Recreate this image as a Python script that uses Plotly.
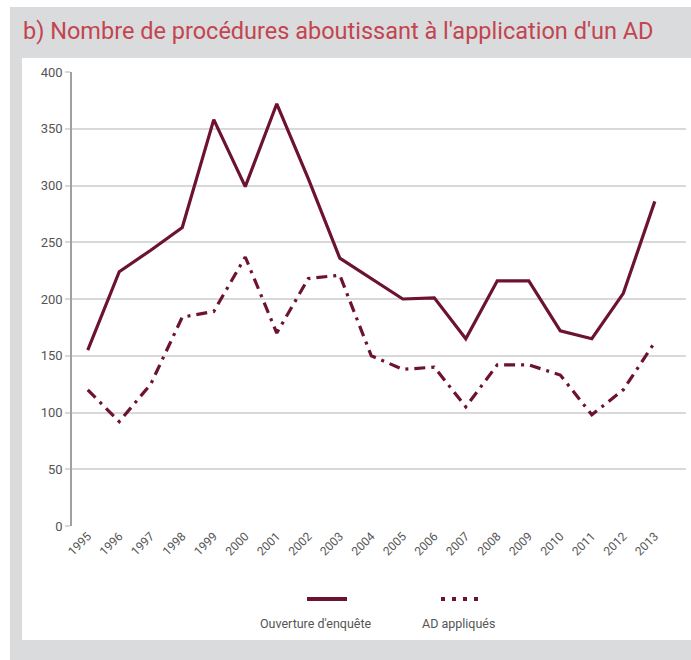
import plotly.graph_objects as go

years = list(range(1995, 2014))
ouverture = [155, 224, 243, 263, 358, 299, 372, 306, 236, 218, 200, 201, 165, 216, 216, 172, 165, 205, 286]
ad_appliques = [120, 92, 125, 184, 189, 237, 170, 218, 221, 150, 138, 140, 105, 142, 142, 133, 98, 120, 162]
y_ticks = [0, 50, 100, 150, 200, 250, 300, 350, 400]

title_text = "b) Nombre de procédures aboutissant à l'application d'un AD"
series_names = ["Ouverture d'enquête", "AD appliqués"]

MAROON = "#6c1233"
TITLE_RED = "#c2454f"
GRAY_TXT = "#555555"
FRAME = "#dadbdd"
FONT = "Liberation Sans Narrow, Roboto, Arial Narrow, sans-serif"

W, H = 691, 660
L, R, T, B = 72, 5, 72, 134
pw = W - L - R
ph = H - T - B

def px_x(px):  # window pixels -> paper
    return (px - L) / pw

def px_y(py):
    return (H - B - py) / ph

fig = go.Figure()
fig.add_trace(go.Scatter(x=years, y=ouverture, mode="lines", name=series_names[0],
                         line=dict(color=MAROON, width=3.2), showlegend=False))
fig.add_trace(go.Scatter(x=years, y=ad_appliques, mode="lines", name=series_names[1],
                         line=dict(color=MAROON, width=3.2, dash="11px,6px,3px,6px"), showlegend=False))

def band(x0, x1, y0, y1):
    return dict(type="rect", xref="paper", yref="paper", x0=px_x(x0), x1=px_x(x1), y0=px_y(y1), y1=px_y(y0),
                fillcolor=FRAME, line=dict(width=0), layer="below")

shapes = [
    band(10, W, 7, 58),      # top band (title)
    band(10, 22, 7, H),      # left band
    band(10, W, 640, H),     # bottom band
    # legend symbols
    dict(type="line", xref="paper", yref="paper", x0=px_x(307), x1=px_x(347), y0=px_y(599), y1=px_y(599),
         line=dict(color=MAROON, width=4)),
    dict(type="line", xref="paper", yref="paper", x0=px_x(441), x1=px_x(479), y0=px_y(599), y1=px_y(599),
         line=dict(color=MAROON, width=4, dash="4px,7px")),
]

annotations = [
    dict(text=title_text, xref="paper", yref="paper", x=px_x(21), y=px_y(31), xanchor="left", yanchor="middle",
         showarrow=False, font=dict(family=FONT, size=23.5, color=TITLE_RED)),
    dict(text=series_names[0], xref="paper", yref="paper", x=px_x(316), y=px_y(623), xanchor="center",
         yanchor="middle", showarrow=False, font=dict(family=FONT, size=12.5, color=GRAY_TXT)),
    dict(text=series_names[1], xref="paper", yref="paper", x=px_x(459), y=px_y(623), xanchor="center",
         yanchor="middle", showarrow=False, font=dict(family=FONT, size=12.5, color=GRAY_TXT)),
]

fig.update_layout(
    width=W, height=H,
    margin=dict(l=L, r=R, t=T, b=B, pad=0),
    paper_bgcolor="#ffffff",
    plot_bgcolor="rgba(0,0,0,0)",
    shapes=shapes,
    annotations=annotations,
    showlegend=False,
    font=dict(family=FONT, color=GRAY_TXT),
)

fig.update_xaxes(
    range=[1994.5, 2013.99], tickmode="array", tickvals=years, ticktext=[str(y) for y in years],
    tickangle=-45, tickfont=dict(size=12, color=GRAY_TXT), showgrid=False, zeroline=False,
    showline=False, ticks="",
)
fig.update_yaxes(
    range=[0, 400], tickmode="array", tickvals=y_ticks, ticktext=[str(v) for v in y_ticks],
    showgrid=True, gridcolor="#d9d9d9", gridwidth=2, zeroline=False,
    showline=True, linecolor="#a0a0a0", linewidth=1.5,
    ticks="outside", ticklen=5, tickcolor="#d9d9d9", tickwidth=2,
    tickfont=dict(size=13, color=GRAY_TXT),
)

fig.write_html(
    "out.html",
    config={"displayModeBar": False},
    post_script=("document.body.style.margin='0';"
                 "document.documentElement.style.overflow='hidden';"
                 "document.body.style.overflow='hidden';"),
)
